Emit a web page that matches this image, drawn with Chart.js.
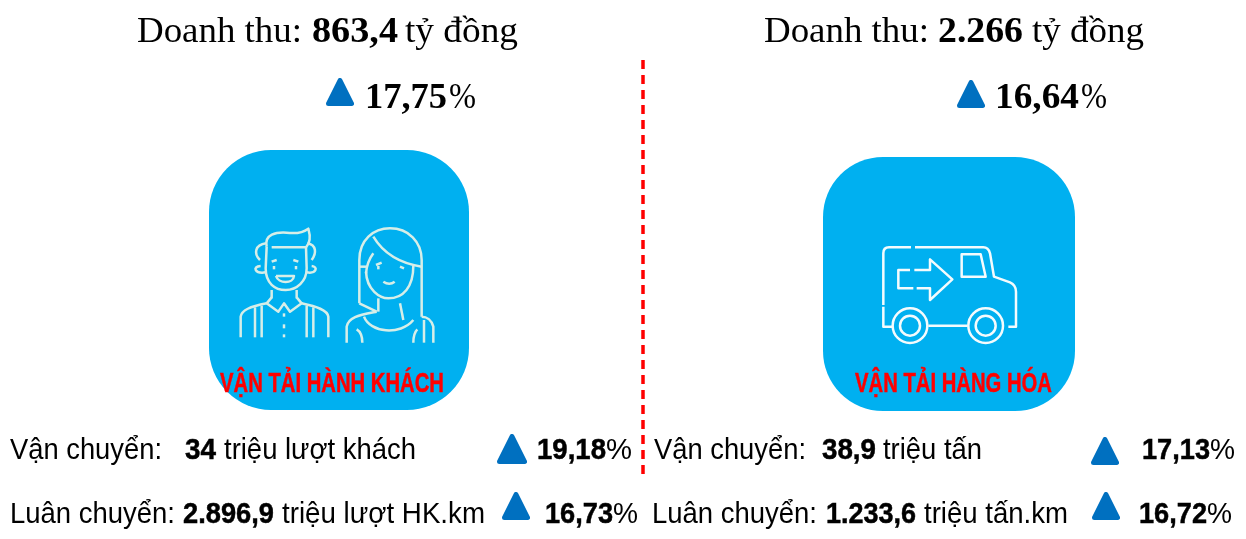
<!DOCTYPE html>
<html lang="vi"><head><meta charset="utf-8">
<style>html,body{margin:0;padding:0;background:#fff}canvas{display:block}</style>
<script src="https://cdn.jsdelivr.net/npm/chart.js@4"></script>
</head><body>
<canvas id="c" width="1246" height="539"></canvas>
<script>
// ---- values ----
const segments = ["VẬN TẢI HÀNH KHÁCH", "VẬN TẢI HÀNG HÓA"];
const revenue = ["863,4", "2.266"];
const revenueGrowth = ["17,75", "16,64"];
const transportValues = ["34", "38,9"];
const transportUnits = ["triệu lượt khách", "triệu tấn"];
const transportGrowth = ["19,18", "17,13"];
const rotationValues = ["2.896,9", "1.233,6"];
const rotationUnits = ["triệu lượt HK.km", "triệu tấn.km"];
const rotationGrowth = ["16,73", "16,72"];

const BLUE = "#0070C0", CYAN = "#00B0F0", RED = "#FF0000", BLACK = "#000000";
const SERIF = '"Liberation Serif"', SANS = '"Liberation Sans"';

function sprite(w, h, draw) {
  const k = document.createElement("canvas"); k.width = w; k.height = h;
  draw(k.getContext("2d"), w, h); return k;
}
function triangle(w, h) {
  return sprite(w, h, (g) => {
    const r = 2.5;
    g.fillStyle = BLUE; g.strokeStyle = BLUE; g.lineWidth = r * 2; g.lineJoin = "round";
    g.beginPath(); g.moveTo(w / 2, r); g.lineTo(w - r, h - r); g.lineTo(r, h - r); g.closePath();
    g.fill(); g.stroke();
  });
}
function tile(w, h, r) {
  return sprite(w, h, (g) => {
    g.fillStyle = CYAN; g.beginPath(); g.roundRect(0, 0, w, h, r); g.fill();
  });
}

// [x, y, text, font family, bold, size, colour, fitted width]
const runs = [];
function run(x, y, text, fam, bold, size, color, width) { runs.push({x, y, text, fam, bold, size, color, width}); }
// left header
run(137, 42, "Doanh thu:", SERIF, false, 36, BLACK, 165);
run(312, 42, revenue[0], SERIF, true, 36, BLACK, 86);
run(405, 42, "tỷ đồng", SERIF, false, 36, BLACK, 113);
run(365, 108, revenueGrowth[0], SERIF, true, 36, BLACK, 82);
run(449, 108, "%", SERIF, false, 36, BLACK, 27);
// right header
run(764, 42, "Doanh thu:", SERIF, false, 36, BLACK, 165);
run(938, 42, revenue[1], SERIF, true, 36, BLACK, 85);
run(1032, 42, "tỷ đồng", SERIF, false, 36, BLACK, 112);
run(995, 108, revenueGrowth[1], SERIF, true, 36, BLACK, 84);
run(1081, 108, "%", SERIF, false, 36, BLACK, 26);
// tile captions
run(220, 392, segments[0], SANS, true, 27, RED, 224);
run(855, 392, segments[1], SANS, true, 27, RED, 197);
// left rows
run(10, 459, "Vận chuyển:", SANS, false, 30, BLACK, 152);
run(185, 459, transportValues[0], SANS, true, 30, BLACK, 31);
run(224, 459, transportUnits[0], SANS, false, 30, BLACK, 192);
run(537, 459, transportGrowth[0], SANS, true, 30, BLACK, 69);
run(606, 459, "%", SANS, false, 30, BLACK, 26);
run(10, 523, "Luân chuyển:", SANS, false, 30, BLACK, 165);
run(183, 523, rotationValues[0], SANS, true, 30, BLACK, 91);
run(282, 523, rotationUnits[0], SANS, false, 30, BLACK, 203);
run(545, 523, rotationGrowth[0], SANS, true, 30, BLACK, 68);
run(613, 523, "%", SANS, false, 30, BLACK, 25);
// right rows
run(654, 459, "Vận chuyển:", SANS, false, 30, BLACK, 152);
run(822, 459, transportValues[1], SANS, true, 30, BLACK, 54);
run(883, 459, transportUnits[1], SANS, false, 30, BLACK, 99);
run(1142, 459, transportGrowth[1], SANS, true, 30, BLACK, 68);
run(1210, 459, "%", SANS, false, 30, BLACK, 25);
run(652, 523, "Luân chuyển:", SANS, false, 30, BLACK, 165);
run(826, 523, rotationValues[1], SANS, true, 30, BLACK, 90);
run(924, 523, rotationUnits[1], SANS, false, 30, BLACK, 144);
run(1139, 523, rotationGrowth[1], SANS, true, 30, BLACK, 68);
run(1207, 523, "%", SANS, false, 30, BLACK, 25);

function strokePaths(ctx, ox, oy, color, lw, paths) {
  ctx.save();
  ctx.translate(ox, oy); ctx.scale(1 / 3, 1 / 3);
  ctx.strokeStyle = color; ctx.lineWidth = lw; ctx.lineCap = "butt"; ctx.lineJoin = "round";
  paths.forEach(d => ctx.stroke(new Path2D(d)));
  ctx.restore();
}
const peoplePaths = [
  "M200,320 C192,282 230,276 260,278 C290,282 310,277 325,266 C332,290 330,310 318,322 L215,322",
  "M200,320 L197,385 C197,430 225,450 257,450 C290,450 320,425 320,385 L318,322",
  "M198,310 C165,315 160,340 180,360", "M182,378 C155,380 165,402 197,397",
  "M322,310 C350,315 350,340 335,360", "M335,378 C355,380 350,402 320,397",
  "M215,365 L230,360", "M280,360 L295,365", "M222,378 L222,388", "M288,378 L288,388",
  "M228,408 L282,408 C280,432 235,432 228,408",
  "M215,450 L215,475", "M290,450 L290,475",
  "M215,472 L200,490 L235,515 L252,490 L270,515 L305,490 L290,472",
  "M122,592 L122,530 C125,510 150,500 200,490", "M385,592 L385,530 C382,510 350,500 305,490",
  "M165,502 L165,592", "M185,497 L185,592", "M320,497 L320,592", "M340,502 L340,592",
  "M252,520 L252,530", "M252,553 L252,565", "M252,583 L252,592",
  "M478,490 L478,360 C478,300 520,265 570,265 C625,265 665,305 665,360 L665,530",
  "M520,290 C550,340 600,370 665,380", "M478,380 L500,380",
  "M520,340 C505,360 500,375 498,400",
  "M498,395 C500,450 540,475 565,475 C610,475 640,440 640,378",
  "M478,490 L530,515", "M528,375 L545,368", "M535,378 L535,388", "M600,380 L612,385",
  "M550,425 C565,435 575,432 584,425",
  "M535,475 L535,515", "M600,490 L610,540",
  "M492,530 C510,578 600,588 640,540",
  "M440,608 L440,560 C445,530 480,525 530,515", "M700,608 L700,560 C695,540 680,530 665,530",
  "M487,608 C487,590 482,575 470,568", "M640,608 C640,590 645,575 652,568", "M672,608 L672,540"
];
const truckPaths = [
  "M205,465 L205,310 Q205,292 222,292 L288,292",
  "M300,292 L505,292 Q520,292 525,310 L537,380 L585,397 Q603,405 603,425 L603,530 L580,530",
  "M205,470 L205,530 L232,530", "M340,527 L458,527",
  "M440,313 L497,313 L512,380 L440,380 Z",
  "M285,360 L250,360 L250,415 L295,415",
  "M305,415 L345,415 L345,450 L412,388 L345,328 L345,360 L298,360",
  "M337,527 A52,52 0 1 1 233,527 A52,52 0 1 1 337,527", "M315,527 A30,30 0 1 1 255,527 A30,30 0 1 1 315,527",
  "M564,527 A52,52 0 1 1 460,527 A52,52 0 1 1 564,527", "M542,527 A30,30 0 1 1 482,527 A30,30 0 1 1 542,527"
];

const artwork = {
  id: "artwork",
  afterDatasetsDraw(chart) {
    const ctx = chart.ctx;
    strokePaths(ctx, 200, 140, "#D6EEE8", 7.5, peoplePaths);
    strokePaths(ctx, 815, 150, "#F4FBFD", 7.5, truckPaths);
    ctx.save();
    ctx.textBaseline = "alphabetic"; ctx.textAlign = "left";
    runs.forEach(r => {
      ctx.font = (r.bold ? "bold " : "") + r.size + "px " + r.fam;
      ctx.fillStyle = r.color;
      const m = ctx.measureText(r.text).width;
      ctx.save();
      ctx.translate(r.x, r.y); ctx.scale(r.width / m, 1);
      ctx.fillText(r.text, 0, 0);
      if (r.bold && r.fam === SANS) {
        ctx.strokeStyle = r.color; ctx.lineWidth = 0.5; ctx.strokeText(r.text, 0, 0);
      }
      ctx.restore();
    });
    ctx.restore();
  }
};

new Chart(document.getElementById("c"), {
  type: "scatter",
  data: { datasets: [
    { label: "Tăng trưởng", data: [{x:340,y:92},{x:971,y:94},{x:512,y:449},{x:516,y:506},{x:1105,y:451},{x:1106,y:506}],
      pointStyle: [triangle(28,28),triangle(28,28),triangle(30,30),triangle(28,28),triangle(28,28),triangle(28,28)],
      pointRadius: 3, showLine: false, order: 1, clip: false },
    { label: "Phân cách", type: "line", data: [{x:643,y:60},{x:643,y:476}], borderColor: RED, borderWidth: 3.5,
      borderDash: [9, 6], pointRadius: 0, order: 2, clip: false },
    { label: "Nhóm", data: [{x:339,y:280},{x:949,y:284}], pointStyle: [tile(260,260,62),tile(252,254,60)],
      pointRadius: 3, showLine: false, order: 3, clip: false }
  ]},
  options: {
    responsive: false, animation: false, events: [],
    layout: { padding: 0, autoPadding: false },
    plugins: { legend: { display: false }, tooltip: { enabled: false }, title: { display: false } },
    scales: {
      x: { type: "linear", display: false, min: 0, max: 1246 },
      y: { type: "linear", display: false, min: 0, max: 539, reverse: true }
    }
  },
  plugins: [artwork]
});
</script>
</body></html>
